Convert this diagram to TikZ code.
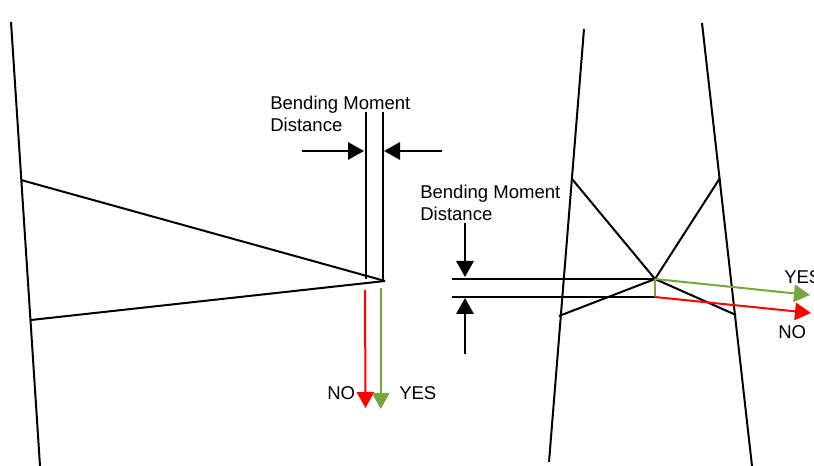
\documentclass[tikz,border=0pt]{standalone}
\usepackage{fontspec}
\setmainfont{Liberation Sans}
\usetikzlibrary{arrows.meta}
\definecolor{kgreen}{HTML}{77A53F}
\definecolor{kred}{HTML}{FF0000}
\tikzset{
  member/.style={line width=1.5pt,black},
  bigtip/.style={-{Triangle[length=12pt,width=13pt]}},
  lbl/.style={inner sep=0pt,font=\fontsize{13.9}{16.5}\selectfont,align=left}
}
\begin{document}
\begin{tikzpicture}[x=0.75pt,y=-0.75pt]
\useasboundingbox (0,0) rectangle (814,466);
\foreach \kname/\kx/\ky in {lwt/11/22,lwb/40/466,lta/21/180,lba/31/320,lapex/385/281,
  lva/366/112,lvb/366/279,lwa/382.7/112,lwc/382.7/282,
  harra/302/151,harrb/364/151,harrc/442/151,harrd/384/151,
  rlt/584/29,rlb/549/462,rrt/702/23,rrb/752/466,
  rapex/655/279,rua/572/179,rub/720/178,rda/559/316,rdb/736/315,
  rha/452/279,rhb/452/297,rhc/655/297,
  varra/465/223,varrb/465/277,varrc/465/354,varrd/465/298,
  nos/365/290,noe/365.5/408,yess/380.7/288,yese/380.7/409,
  ryese/810/295,rnoe/811/313}{\coordinate(\kname) at (\kx,\ky);}
%left side
\foreach \ka/\kb in {lwt/lwb,lta/lapex,lba/lapex,lva/lvb,lwa/lwc}{\draw[member](\ka)--(\kb);}
\foreach \ka/\kb in {harra/harrb,harrc/harrd}{\draw[member,bigtip](\ka)--(\kb);}
\draw[line width=1.5pt,kred,bigtip](nos)--(noe);
\draw[line width=1.5pt,kgreen,bigtip](yess)--(yese);
%right side
\foreach \ka/\kb in {rlt/rlb,rrt/rrb,rua/rapex,rub/rapex,rda/rapex,rdb/rapex,rha/rapex,rhb/rhc}{\draw[member](\ka)--(\kb);}
\foreach \ka/\kb in {varra/varrb,varrc/varrd}{\draw[member,bigtip](\ka)--(\kb);}
\draw[line width=1.5pt,kgreen](rapex)--(rhc);
\draw[line width=1.5pt,kgreen,bigtip](rapex)--(ryese);
\draw[line width=1.5pt,kred,bigtip](rhc)--(rnoe);
%labels
\node[lbl,anchor=north west](lblleft) at (270,95.5){Bending Moment\\Distance};
\node[lbl,anchor=north west](lblright) at (420,185){Bending Moment\\Distance};
\foreach \kname/\kx/\ky/\ktxt in {lblno/327/393/NO,lblyes/399/393/YES,lblryes/784/277/YES,lblrno/778/332/NO}{
  \node[lbl,anchor=west](\kname) at (\kx,\ky){\ktxt};}
\end{tikzpicture}
\end{document}
